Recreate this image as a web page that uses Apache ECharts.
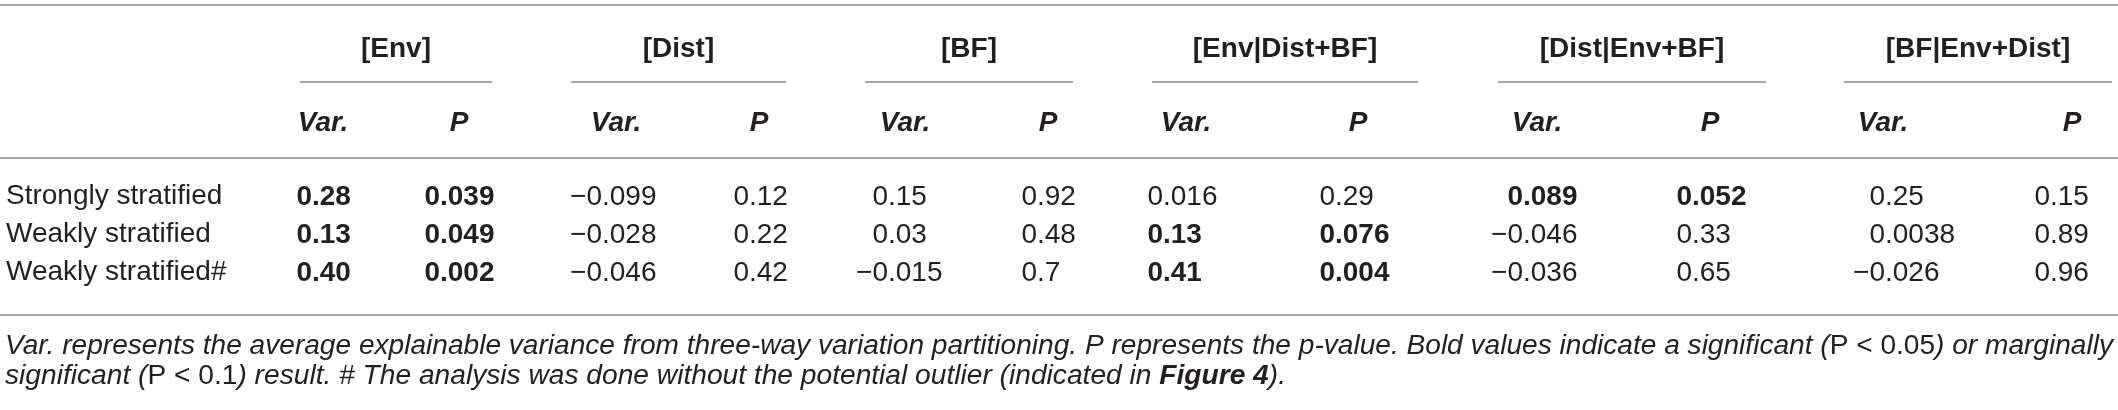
<!DOCTYPE html>
<html><head><meta charset="utf-8">
<script src="https://cdn.jsdelivr.net/npm/echarts@6/dist/echarts.min.js"></script>
<style>html,body{margin:0;padding:0;background:#fff}#c{width:2118px;height:410px}</style>
</head><body><div id="c"></div>
<script>
// ---------- data ----------
const rowLabels = ['Strongly stratified', 'Weakly stratified', 'Weakly stratified#'];
const groupNames = ['[Env]', '[Dist]', '[BF]', '[Env|Dist+BF]', '[Dist|Env+BF]', '[BF|Env+Dist]'];
const subHeaders = ['Var.', 'P'];
const envVar      = ['0.28', '0.13', '0.40'];
const envP        = ['0.039', '0.049', '0.002'];
const distVar     = ['\u22120.099', '\u22120.028', '\u22120.046'];
const distP       = ['0.12', '0.22', '0.42'];
const bfVar       = ['0.15', '0.03', '\u22120.015'];
const bfP         = ['0.92', '0.48', '0.7'];
const envCondVar  = ['0.016', '0.13', '0.41'];
const envCondP    = ['0.29', '0.076', '0.004'];
const distCondVar = ['0.089', '\u22120.046', '\u22120.036'];
const distCondP   = ['0.052', '0.33', '0.65'];
const bfCondVar   = ['0.25', '0.0038', '\u22120.026'];
const bfCondP     = ['0.15', '0.89', '0.96'];
const significanceLevel = 0.1; // bold when P < 0.1
const footLine1 = [['i', 'Var. represents the average explainable variance from three-way variation partitioning. P represents the p-value. Bold values indicate a significant ('], ['u', 'P < 0.05'], ['i', ') or marginally']];
const footLine2 = [['i', 'significant ('], ['u', 'P < 0.1'], ['i', ') result. # The analysis was done without the potential outlier (indicated in '], ['b', 'Figure 4'], ['i', ').']];

// ---------- layout ----------
const W = 2118, H = 410;
const FF = "'Liberation Sans', Arial, Helvetica, sans-serif";
const TXT = '#231f20';
const RULE = '#8a8a8a';
const FS = 28;
const COL_ANCHOR = [312, 440, 602, 749, 888, 1037, 1163, 1335, 1523, 1692, 1885, 2050]; // decimal point
const SUB_X = [323, 459, 616, 759, 905, 1048, 1186, 1358, 1537, 1710, 1883, 2072];
const GROUP_SPAN = [[300, 492], [571, 786], [865, 1073], [1152, 1418], [1498, 1766], [1844, 2112]];
const Y = { top: 5, group: 49, under: 82, sub: 123, rule1: 158, rule2: 315, foot1: 346, foot2: 376 };

const columns = [[envVar, envP], [distVar, distP], [bfVar, bfP], [envCondVar, envCondP], [distCondVar, distCondP], [bfCondVar, bfCondP]];
const cells = [];
columns.forEach((pair, g) => {
  pair.forEach((arr, k) => {
    arr.forEach((txt, r) => {
      const p = parseFloat(pair[1][r]);
      cells.push({ c: g * 2 + k, r: r, text: txt, bold: p < significanceLevel });
    });
  });
});

const graphic = [];
[Y.top, Y.rule1, Y.rule2].forEach(y => graphic.push({ type: 'line', silent: true, shape: { x1: 0, y1: y, x2: W, y2: y }, style: { stroke: RULE, lineWidth: 1.5 } }));
GROUP_SPAN.forEach((s, g) => {
  graphic.push({ type: 'line', silent: true, shape: { x1: s[0], y1: Y.under, x2: s[1], y2: Y.under }, style: { stroke: RULE, lineWidth: 1.5 } });
  graphic.push({ type: 'text', silent: true, x: (s[0] + s[1]) / 2, y: Y.group, style: { text: groupNames[g], font: `bold ${FS}px ${FF}`, fill: TXT, align: 'center', verticalAlign: 'middle' } });
});
SUB_X.forEach((x, i) => {
  graphic.push({ type: 'text', silent: true, x: x, y: Y.sub, style: { text: subHeaders[i % 2], font: `italic bold ${FS}px ${FF}`, fill: TXT, align: 'center', verticalAlign: 'middle' } });
});

// footnote
const ctx = document.createElement('canvas').getContext('2d');
function fontFor(k, fs) {
  if (k === 'i') return `italic ${fs}px ${FF}`;
  if (k === 'b') return `italic bold ${fs}px ${FF}`;
  return `${fs}px ${FF}`;
}
function lineW(segs, fs) { return segs.reduce((a, s) => { ctx.font = fontFor(s[0], fs); return a + ctx.measureText(s[1]).width; }, 0); }
let ffs = 26 * 1282 / lineW(footLine2, 26);
ffs = Math.max(22, Math.min(30, ffs));
let sx1 = 2108 / lineW(footLine1, ffs);
sx1 = Math.max(0.9, Math.min(1.12, sx1));
function rich(fs) {
  return {
    i: { fontStyle: 'italic', fontWeight: 'normal', fontSize: fs, fontFamily: FF, fill: TXT },
    u: { fontStyle: 'normal', fontWeight: 'normal', fontSize: fs, fontFamily: FF, fill: TXT },
    b: { fontStyle: 'italic', fontWeight: 'bold', fontSize: fs, fontFamily: FF, fill: TXT }
  };
}
[[footLine1, Y.foot1, sx1], [footLine2, Y.foot2, 1]].forEach(([segs, y, sx]) => {
  graphic.push({ type: 'text', silent: true, x: 5, y: y, scaleX: sx, style: { text: segs.map(s => `{${s[0]}|${s[1]}}`).join(''), rich: rich(ffs), verticalAlign: 'middle', align: 'left' } });
});

const chart = echarts.init(document.getElementById('c'), null, { renderer: 'canvas' });
chart.setOption({
  animation: false,
  backgroundColor: '#fff',
  grid: { left: 0, right: 0, top: 177, bottom: 119, containLabel: false },
  xAxis: { type: 'value', min: 0, max: W, show: false },
  yAxis: {
    type: 'category', data: rowLabels, inverse: true,
    axisLine: { show: false }, axisTick: { show: false }, splitLine: { show: false },
    axisLabel: { inside: true, margin: 6, fontSize: FS, fontFamily: FF, color: TXT }
  },
  series: [{
    type: 'custom', silent: true,
    data: cells.map(d => [d.c, d.r]),
    renderItem: function (params, api) {
      const d = cells[params.dataIndex];
      const p = api.coord([COL_ANCHOR[d.c], api.value(1)]);
      const i = d.text.indexOf('.');
      const font = `${d.bold ? 'bold ' : ''}${FS}px ${FF}`;
      return {
        type: 'group', children: [
          { type: 'text', x: p[0], y: p[1] + 1, style: { text: d.text.slice(0, i), font: font, fill: TXT, align: 'right', verticalAlign: 'middle' } },
          { type: 'text', x: p[0], y: p[1] + 1, style: { text: d.text.slice(i), font: font, fill: TXT, align: 'left', verticalAlign: 'middle' } }
        ]
      };
    }
  }],
  graphic: graphic
});
</script>
</body></html>
